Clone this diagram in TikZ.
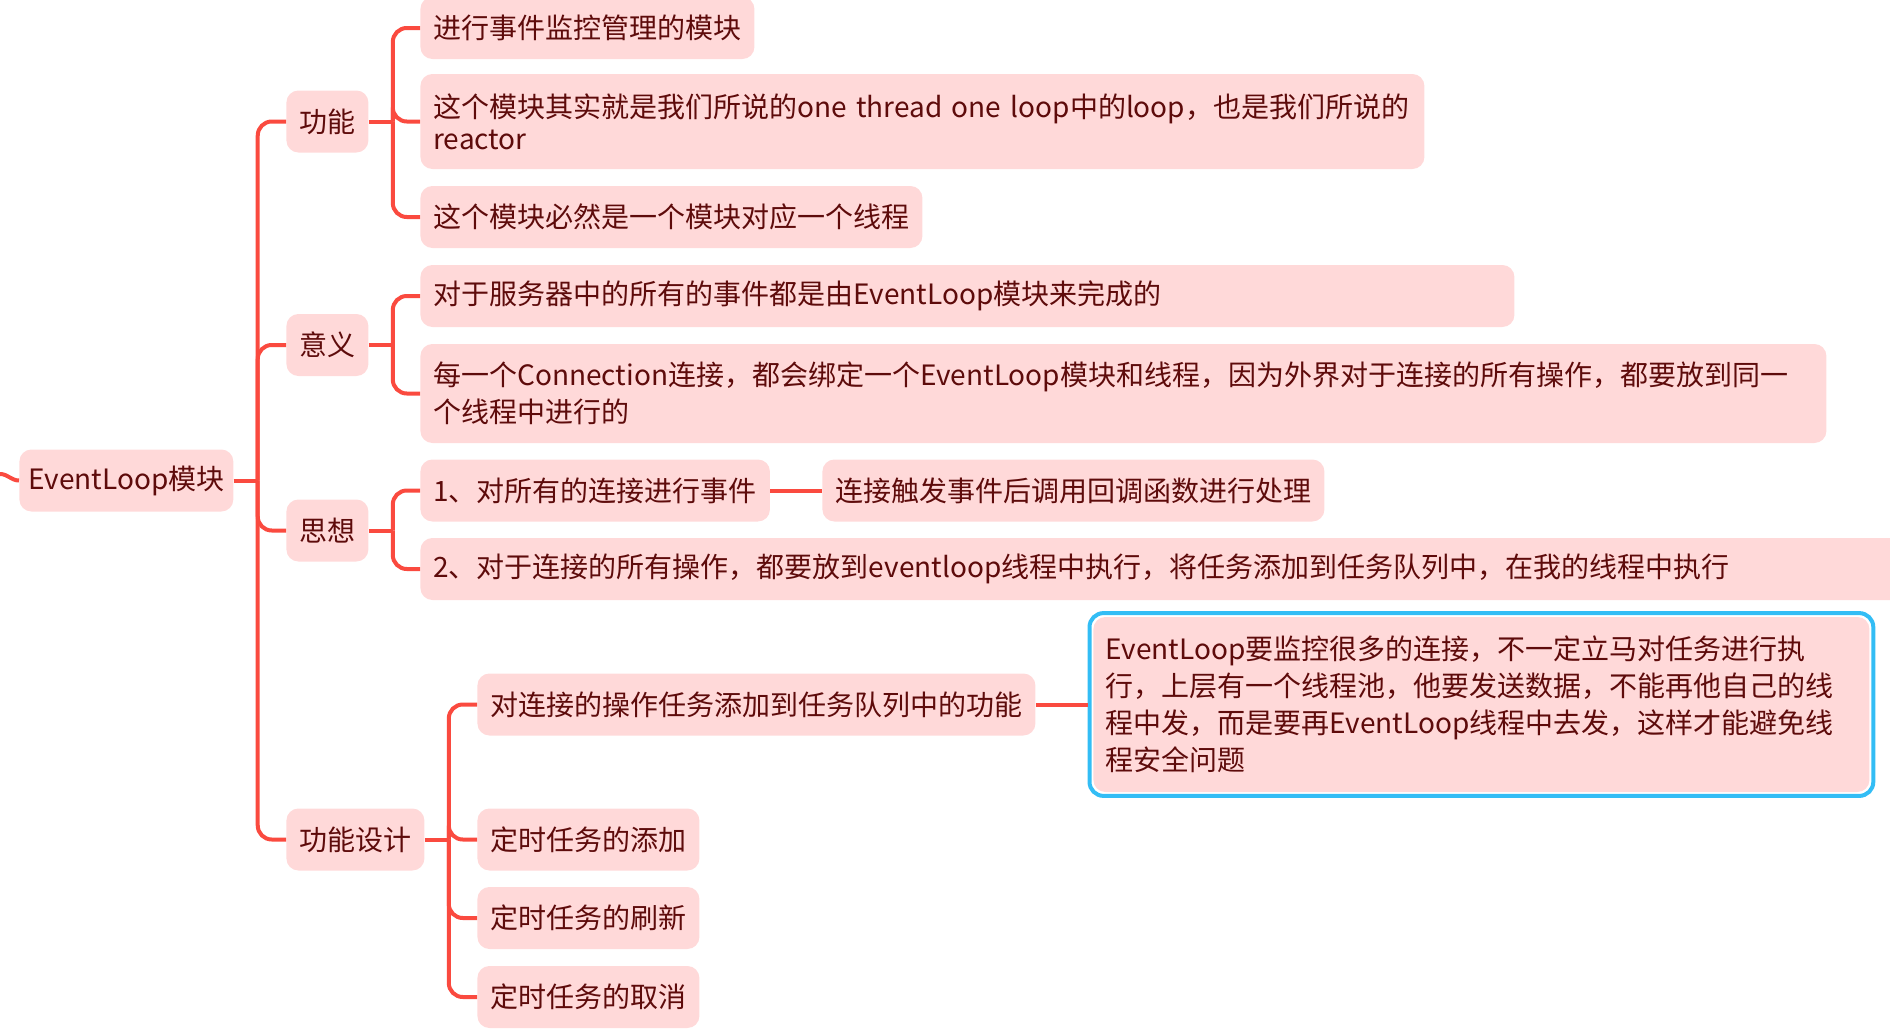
\documentclass[tikz,border=0pt]{standalone}
\usepackage{fontspec}
\setmainfont{Noto Sans CJK SC}
\usepackage{xcolor}
\usetikzlibrary{positioning, calc, fit}
\definecolor{linkred}{HTML}{FA4A3F}
\definecolor{nodepink}{HTML}{FFD9D9}
\definecolor{inkred}{HTML}{5E0B0B}
\definecolor{selblue}{HTML}{33BDF5}
\tikzset{
  topic/.style={rectangle, rounded corners=6pt, fill=nodepink, text=inkred,
                inner xsep=6.5pt, inner ysep=0pt, minimum height=31pt,
                font=\fontsize{14}{18.5}\selectfont, align=left, anchor=west},
  wide/.style={topic, text width=#1},
  link/.style={draw=linkred, line width=2pt, rounded corners=7pt},
  hilite/.style={draw=selblue, line width=2pt, rounded corners=7pt,
                 inner sep=1.75pt}
}
\begin{document}
\begin{tikzpicture}[x=0.5pt, y=-0.5pt]
        \useasboundingbox (0,0) rectangle (1890,1033);
        \clip (0,0) rectangle (1890,1033);
        % root and main branches
        \node[topic, inner xsep=4.5pt] (root) at (19,480.5) {EventLoop模块};
        \node[topic] (gn) at (286,121.5) {功能};
        \node[topic] (yy) at (286,345) {意义};
        \node[topic] (sx) at (286,530.5) {思想};
        \node[topic] (sj) at (286,839.5) {功能设计};
        % leaves
        \node[topic] (gn1) at (420,28) {进行事件监控管理的模块};
        \node[wide=493pt, inner xsep=4.5pt, minimum height=47.5pt, font=\fontsize{14}{16}\selectfont]
          (gn2) at (420,121.5) {\hspace*{2pt}这个模块其实就是我们所说的one thread one loop中的loop，也是我们所说的\\\hspace*{2pt}reactor};
        \node[topic] (gn3) at (420,217) {这个模块必然是一个模块对应一个线程};
        \node[wide=534pt] (yy1) at (420,296) {对于服务器中的所有的事件都是由EventLoop模块来完成的};
        \node[wide=690pt, minimum height=49.5pt]
          (yy2) at (420,393.5) {每一个Connection连接，都会绑定一个EventLoop模块和线程，因为外界对于连接的所有操作，都要放到同一\\个线程中进行的};
        \node[topic] (sx1) at (420,490.5) {1、对所有的连接进行事件};
        \node[topic] (sx1a) at (822,490.5) {连接触发事件后调用回调函数进行处理};
        \node[wide=740pt] (sx2) at (420,569) {2、对于连接的所有操作，都要放到eventloop线程中执行，将任务添加到任务队列中，在我的线程中执行};
        \node[topic] (sj1) at (477,704.5) {对连接的操作任务添加到任务队列中的功能};
        \node[wide=376pt, inner xsep=6pt, minimum height=87.5pt]
          (sj1a) at (1093,704.5) {EventLoop要监控很多的连接，不一定立马对任务进行执\\行，上层有一个线程池，他要发送数据，不能再他自己的线\\程中发，而是要再EventLoop线程中去发，这样才能避免线\\程安全问题};
        \node[hilite, fit=(sj1a)] (sel) {};
        \node[topic] (sj2) at (477,839.5) {定时任务的添加};
        \node[topic] (sj3) at (477,918) {定时任务的刷新};
        \node[topic] (sj4) at (477,997) {定时任务的取消};
        % connectors
        \coordinate (stub) at (0,474);
        \draw[link] (stub) to[out=0, in=180] (root.west);
        \foreach \p in {root, gn, yy, sx, sj}
          \draw[link] (\p.east) -- ++(24,0) coordinate (\p-j);
        \foreach \p/\c in {root/gn, root/yy, root/sx, root/sj, gn/gn1, gn/gn2, gn/gn3,
                          yy/yy1, yy/yy2, sx/sx1, sx/sx2, sj/sj1, sj/sj2, sj/sj3, sj/sj4}
          \draw[link] (\p-j) |- (\c.west);
        \draw[link] (sx1) -- (sx1a);
        \draw[link] (sj1) -- (sel);
      \end{tikzpicture}
\end{document}
